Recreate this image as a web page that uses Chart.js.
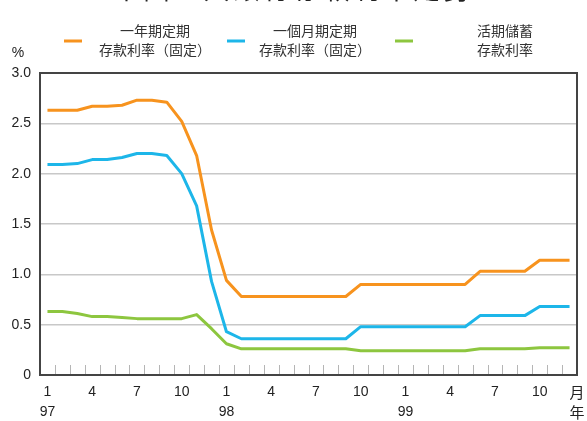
<!DOCTYPE html>
<html>
<head>
<meta charset="utf-8">
<script src="https://cdn.jsdelivr.net/npm/chart.js@4"></script>
<style>
  body { margin: 0; background: #fff; }
  #wrap { position: relative; width: 587px; height: 421px; overflow: hidden; }
  #title { position: absolute; left: 0; width: 587px; top: -31px; text-align: center;
           font: 26px "Noto Sans CJK TC", sans-serif; color: #222; letter-spacing: 4px; }
</style>
</head>
<body>
<div id="wrap">
  <div id="title">本國五大銀行存款利率走勢</div>
  <canvas id="chart1" width="587" height="421"></canvas>
</div>
<script>
// months 1997/01 - 1999/12
const months = [];
for (let y of ['97','98','99']) {
    for (let m = 1; m <= 12; m++) months.push(m + '/' + y);
}
const yTicks = [0, 0.5, 1.0, 1.5, 2.0, 2.5, 3.0];

const oneYearRate = [2.63,2.63,2.63,2.67,2.67,2.68,2.73,2.73,2.71,2.52,2.18,1.44,
                     0.94,0.78,0.78,0.78,0.78,0.78,0.78,0.78,0.78,0.90,0.90,0.90,
                     0.90,0.90,0.90,0.90,0.90,1.03,1.03,1.03,1.03,1.14,1.14,1.14];
const oneMonthRate = [2.09,2.09,2.10,2.14,2.14,2.16,2.20,2.20,2.18,2.00,1.68,0.93,
                      0.43,0.36,0.36,0.36,0.36,0.36,0.36,0.36,0.36,0.48,0.48,0.48,
                      0.48,0.48,0.48,0.48,0.48,0.59,0.59,0.59,0.59,0.68,0.68,0.68];
const savingsRate = [0.63,0.63,0.61,0.58,0.58,0.57,0.56,0.56,0.56,0.56,0.60,0.46,
                     0.31,0.26,0.26,0.26,0.26,0.26,0.26,0.26,0.26,0.24,0.24,0.24,
                     0.24,0.24,0.24,0.24,0.24,0.26,0.26,0.26,0.26,0.27,0.27,0.27];

const seriesLabels = [['一年期定期','存款利率（固定）'], ['一個月期定期','存款利率（固定）'], ['活期儲蓄','存款利率']];
const seriesColors = ['#f7931e', '#1db6e9', '#8dc63f'];

const FONT = '"Liberation Sans", "Noto Sans CJK TC", sans-serif';
const CJK = '"Noto Sans CJK TC", sans-serif';

// frame, month ticks, legend, unit labels
const extras = {
    id: 'extras',
    afterDraw(chart) {
        const c = chart.ctx, a = chart.chartArea, xs = chart.scales.x;
        const step = xs.getPixelForValue(1) - xs.getPixelForValue(0);
        c.save();
        // small month ticks
        c.strokeStyle = '#b5b5b5';
        c.lineWidth = 1;
        for (let i = 1; i < months.length; i++) {
            const x = Math.round(xs.getPixelForValue(i) - step / 2) + 0.5;
            c.beginPath(); c.moveTo(x, a.bottom); c.lineTo(x, a.bottom - 10); c.stroke();
        }
        // frame
        c.strokeStyle = '#444';
        c.lineWidth = 2;
        c.strokeRect(a.left, a.top, a.right - a.left, a.bottom - a.top);
        // legend
        const legendPos = [[64, 155], [227, 315], [395, 505]];
        chart.data.datasets.forEach((ds, i) => {
            const [lx, tx] = legendPos[i];
            c.strokeStyle = ds.borderColor;
            c.lineWidth = 3;
            c.beginPath(); c.moveTo(lx, 41); c.lineTo(lx + 18, 41); c.stroke();
            c.fillStyle = '#333';
            c.font = '14px ' + CJK;
            c.textAlign = 'center';
            c.textBaseline = 'middle';
            c.fillText(ds.label[0], tx, 31);
            c.fillText(ds.label[1], tx, 50);
        });
        // unit labels
        c.fillStyle = '#222';
        c.font = '14px ' + FONT;
        c.textAlign = 'center';
        c.fillText('%', 18, 53);
        c.font = '15px ' + CJK;
        c.fillText('月', a.right, 392);
        c.fillText('年', a.right, 412);
        c.restore();
    }
};

const ctx1 = document.getElementById('chart1').getContext('2d');
const chart1 = new Chart(ctx1, {
    type: 'line',
    data: {
        labels: months,
        datasets: [
            { label: seriesLabels[0], data: oneYearRate, borderColor: seriesColors[0] },
            { label: seriesLabels[1], data: oneMonthRate, borderColor: seriesColors[1] },
            { label: seriesLabels[2], data: savingsRate, borderColor: seriesColors[2] }
        ]
    },
    options: {
        responsive: false,
        animation: false,
        layout: { padding: { top: 73, right: 10, left: 0, bottom: 0 } },
        elements: {
            line: { borderWidth: 3, tension: 0, borderJoinStyle: 'round' },
            point: { radius: 0 }
        },
        plugins: {
            legend: { display: false },
            tooltip: { enabled: false }
        },
        scales: {
            x: {
                offset: true,
                grid: { display: false, drawTicks: false },
                border: { display: false },
                afterFit(s) { s.height = 46; },
                ticks: {
                    autoSkip: false,
                    maxRotation: 0,
                    padding: 7,
                    color: '#222',
                    font: { family: FONT, size: 14, lineHeight: 1.45 },
                    callback(v, i) {
                        const [m, y] = months[i].split('/');
                        if (m === '1') return [m, y];
                        if (m === '4' || m === '7' || m === '10') return m;
                        return '';
                    }
                }
            },
            y: {
                min: 0,
                max: 3,
                afterFit(s) { s.width = 40; },
                afterBuildTicks(s) { s.ticks = yTicks.map(v => ({ value: v })); },
                grid: { color: '#c8c8c8', lineWidth: 1.5, drawTicks: false },
                border: { display: false },
                ticks: {
                    padding: 9,
                    color: '#222',
                    font: { family: FONT, size: 14 },
                    callback(v) { return v === 0 ? '0' : v.toFixed(1); }
                }
            }
        }
    },
    plugins: [extras]
});
</script>
</body>
</html>
